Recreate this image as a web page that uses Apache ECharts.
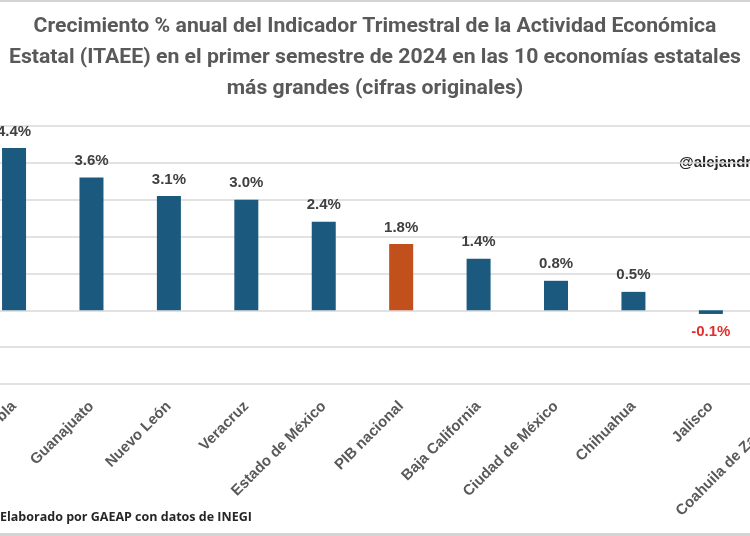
<!DOCTYPE html>
<html>
<head>
<meta charset="utf-8">
<script src="https://cdn.jsdelivr.net/npm/echarts@6/dist/echarts.min.js"></script>
<style>
  html, body { margin: 0; padding: 0; background: #ffffff; overflow: hidden; }
  body { width: 750px; height: 536px; position: relative; }
  /* the reference is cropped on both sides, so the chart box is wider than the page */
  #chart { position: absolute; left: -28px; top: 0; width: 855px; height: 536px; }
</style>
</head>
<body>
<div id="chart"></div>
<script>
// Datos: crecimiento % anual ITAEE, primer semestre 2024
const categories = ['Puebla', 'Guanajuato', 'Nuevo León', 'Veracruz', 'Estado de México', 'PIB nacional',
  'Baja California', 'Ciudad de México', 'Chihuahua', 'Jalisco', 'Coahuila de Zaragoza']
// Coahuila queda fuera del recorte de la imagen: sin valor legible
const growth = [4.4, 3.6, 3.1, 3.0, 2.4, 1.8, 1.4, 0.8, 0.5, -0.1, null]
const yTicks = { min: -2, max: 5, step: 1 }

const titleLines = [
  'Crecimiento % anual del Indicador Trimestral de la Actividad Económica',
  'Estatal (ITAEE) en el primer semestre de 2024 en las 10 economías estatales',
  'más grandes (cifras originales)'
]

const BLUE = '#1b5a7e'
const ORANGE = '#c1501c'
const RED = '#e0302c'
const OFFSET = 28 // page x = chart x - OFFSET

// condensed title: squeeze Roboto so the widest line is ~732px like the original
const TITLE_FONT = 'bold 21px Roboto'
const ctx = document.createElement('canvas').getContext('2d')
ctx.font = TITLE_FONT
const widest = Math.max(...titleLines.map(t => ctx.measureText(t).width))
const titleScale = 732 / widest

const chart = echarts.init(document.getElementById('chart'))

const barData = growth.map((v, i) => {
  const item = {
    value: v,
    itemStyle: { color: categories[i] === 'PIB nacional' ? ORANGE : BLUE }
  }
  if (v != null && v < 0) {
    item.label = { position: 'bottom', color: RED, distance: 10 }
  }
  return item
})

const option = {
  backgroundColor: '#ffffff',
  grid: {
    left: 0,
    right: 0,
    top: 126,
    bottom: 152
  },
  xAxis: {
    type: 'category',
    data: categories,
    axisLine: { show: false },
    axisTick: { show: false },
    axisLabel: {
      interval: 0,
      rotate: 45,
      margin: 20,
      fontFamily: 'Liberation Sans',
      fontWeight: 'bold',
      fontSize: 15,
      color: '#595959'
    }
  },
  yAxis: {
    type: 'value',
    min: yTicks.min,
    max: yTicks.max,
    interval: yTicks.step,
    axisLabel: { show: false },
    axisLine: { show: false },
    axisTick: { show: false },
    splitLine: { lineStyle: { color: '#d9d9d9', width: 1.5 } }
  },
  series: [
    {
      type: 'bar',
      data: barData,
      barWidth: 24,
      label: {
        show: true,
        position: 'top',
        distance: 9,
        formatter: p => (p.value == null ? '' : p.value.toFixed(1) + '%'),
        fontFamily: 'Liberation Sans',
        fontWeight: 'bold',
        fontSize: 15,
        color: '#404040'
      }
    }
  ],
  graphic: [
    { type: 'rect', left: 0, top: 0, shape: { width: 855, height: 2 }, style: { fill: '#d4d4d4' } },
    { type: 'rect', left: 0, top: 533, shape: { width: 855, height: 3 }, style: { fill: '#d4d4d4' } },
    {
      type: 'text',
      x: 375 + OFFSET,
      y: 11,
      scaleX: titleScale,
      style: {
        text: titleLines.join('\n'),
        font: TITLE_FONT,
        lineHeight: 31,
        fill: '#595959',
        align: 'center'
      }
    },
    {
      type: 'text',
      x: 677 + OFFSET,
      y: 153,
      style: {
        text: '@alejandro',
        font: 'bold 15px "Liberation Sans"',
        fill: '#262626',
        backgroundColor: '#ffffff',
        padding: [2, 2]
      }
    },
    {
      type: 'text',
      x: OFFSET,
      y: 511,
      style: {
        text: 'Elaborado por GAEAP con datos de INEGI',
        font: 'bold 12.5px "Open Sans"',
        fill: '#262626'
      }
    }
  ]
}

chart.setOption(option)
</script>
</body>
</html>
